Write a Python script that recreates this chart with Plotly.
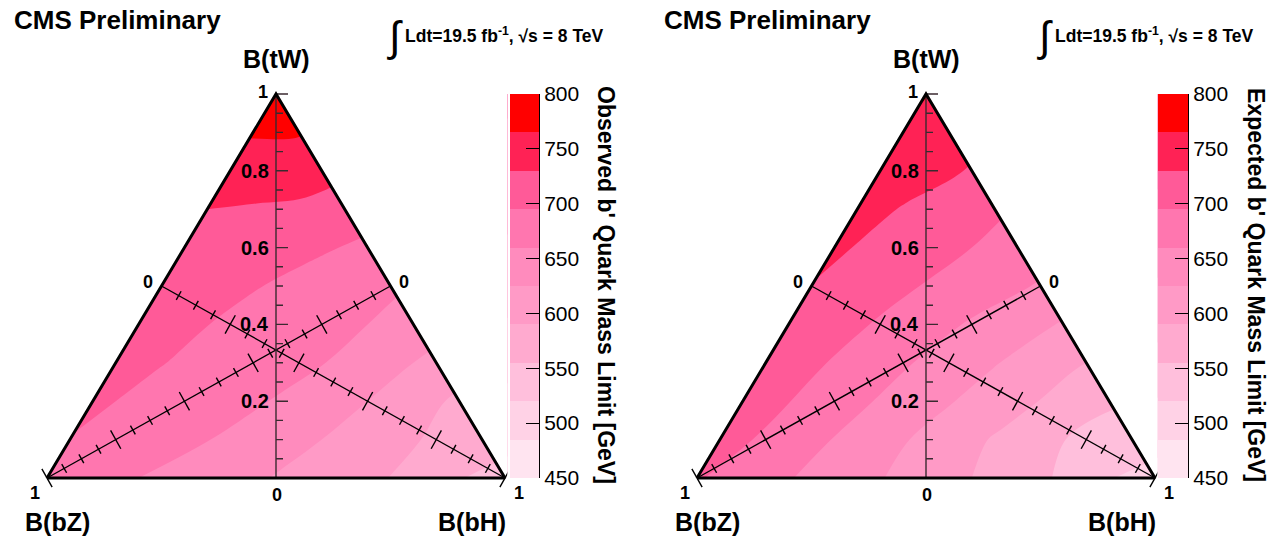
import math
import plotly.graph_objects as go

# ---------------- data ----------------
BH = [0.0, 0.1, 0.2, 0.3, 0.4, 0.5, 0.6, 0.7, 0.8, 0.9, 1.0]   # B(bH) grid (carpet a)
TW = [0.0, 0.1, 0.2, 0.3, 0.4, 0.5, 0.6, 0.7, 0.8, 0.9, 1.0]   # B(tW) grid (carpet b)

# mass limits [GeV]; row = B(tW), column = B(bH) (B(bZ) = 1 - B(tW) - B(bH))
OBS_LIMIT = [
    [696, 678, 660, 648, 636, 623, 610, 598, 580, 557, 540],
    [694, 684, 672, 661, 648, 632, 618, 600, 585, 560],
    [700, 690, 680, 670, 658, 643, 625, 608, 582],
    [708, 696, 687, 678, 667, 655, 635, 615],
    [714, 701, 690, 682, 672, 660, 640],
    [720, 708, 697, 688, 678, 665],
    [725, 716, 707, 698, 690],
    [730, 727, 723, 718],
    [748, 747, 746],
    [768, 768],
    [795],
]
EXP_LIMIT = [
    [698, 680, 662, 645, 627, 607, 590, 570, 550, 522, 505],
    [710, 689, 669, 648, 628, 607, 587, 566, 546, 525],
    [715, 696, 676, 657, 637, 618, 599, 579, 560],
    [720, 701, 683, 664, 646, 627, 609, 590],
    [725, 708, 691, 674, 656, 639, 622],
    [729, 715, 700, 686, 671, 657],
    [735, 722, 708, 695, 682],
    [742, 728, 714, 700],
    [750, 739, 728],
    [760, 750],
    [767],
]

LEVELS = [450, 485, 520, 555, 590, 625, 660, 695, 730, 765, 800]
BAND_COLORS = ["#ffe4f0", "#ffd2e6", "#ffbfdc", "#ffaacf", "#ff9ac6",
               "#ff8bbd", "#ff76af", "#ff5a98", "#ff2255", "#ff0000"]
CBAR_TICKS = [450, 500, 550, 600, 650, 700, 750, 800]
TW_TICK_LABELS = ["0.2", "0.4", "0.6", "0.8"]
TW_TICK_VALUES = [0.2, 0.4, 0.6, 0.8]
PANEL_TITLES = ["Observed b' Quark Mass Limit [GeV]", "Expected b' Quark Mass Limit [GeV]"]

FONT = "Liberation Sans"
W, H = 1284, 537
PX_X, PX_Y = 458.0, 384.0   # pixels per unit in the triangle frame


def tri_xy(h, t):
    return h + t / 2.0, t


BL, BR, AP = tri_xy(0, 0), tri_xy(1, 0), tri_xy(0, 1)
LM, RM, BC = tri_xy(0, 0.5), tri_xy(0.5, 0.5), tri_xy(0.5, 0)

fig = go.Figure()

# contour-fill colorscale: band k coloured at (k+1)/11
cs_fill = [[0.0, BAND_COLORS[0]]]
for k, c in enumerate(BAND_COLORS):
    cs_fill.append([(k + 1) / 11.0, c])
cs_fill.append([1.0, BAND_COLORS[-1]])
cs_bar = [[k / 9.0, c] for k, c in enumerate(BAND_COLORS)]

XR = [-0.06, 1.005]
YR = [-0.05, 1.05]
panels = [
    dict(data=OBS_LIMIT, xa="x", ya="y", cxa="x3", cya="y3", left=47, cb=(510, 539), title_x=606),
    dict(data=EXP_LIMIT, xa="x2", ya="y2", cxa="x4", cya="y4", left=697, cb=(1158, 1188), title_x=1256),
]

annotations = []


def ann(text, x, y, xref, yref, size, bold=True, xanchor="center", yanchor="middle",
        xshift=0, yshift=0, angle=0, family=FONT):
    annotations.append(dict(text=text, x=x, y=y, xref=xref, yref=yref, showarrow=False,
                            xanchor=xanchor, yanchor=yanchor, xshift=xshift, yshift=yshift,
                            textangle=angle,
                            font=dict(family=family, size=size, color="black",
                                      weight="bold" if bold else "normal")))


layout_axes = {}
for pi, p in enumerate(panels):
    xa, ya = p["xa"], p["ya"]
    cid = "carpet%d" % pi
    X = [[tri_xy(h, t)[0] for h in BH] for t in TW]
    Y = [[tri_xy(h, t)[1] for h in BH] for t in TW]
    Z = [row + [None] * (len(BH) - len(row)) for row in p["data"]]
    hidden = dict(showgrid=False, showline=False, showticklabels="none", startline=False,
                  endline=False, minorgridcount=0, smoothing=0)
    fig.add_trace(go.Carpet(a=BH, b=TW, x=X, y=Y, carpet=cid, xaxis=xa, yaxis=ya,
                            aaxis=hidden, baxis=hidden))
    fig.add_trace(go.Contourcarpet(a=BH, b=TW, z=Z, carpet=cid, xaxis=xa, yaxis=ya,
                                   autocontour=False,
                                   contours=dict(start=LEVELS[0], end=LEVELS[-1],
                                                 size=LEVELS[1] - LEVELS[0],
                                                 coloring="fill", showlines=False),
                                   line=dict(width=0), colorscale=cs_fill, showscale=False))
    # white mask right of the triangle (carpet parallelogram overflow)
    fig.add_trace(go.Scatter(x=[BR[0], 1.3, 1.3, AP[0], AP[0], BR[0]],
                             y=[BR[1], BR[1], 1.3, 1.3, AP[1], BR[1]],
                             mode="lines", fill="toself", fillcolor="white",
                             line=dict(width=0, color="white"), xaxis=xa, yaxis=ya,
                             hoverinfo="skip"))

    # medians with ticks
    def median(P0, P1):
        xs = [P0[0], P1[0]]
        ys = [P0[1], P1[1]]
        dxp = (P1[0] - P0[0]) * PX_X
        dyp = (P1[1] - P0[1]) * PX_Y
        L = math.hypot(dxp, dyp)
        ux, uy = -dyp / L, dxp / L
        tx, ty = [], []
        for n in range(1, 21):
            v = n * 0.05
            half = 10.5 if n % 4 == 0 else 5.0
            bx = P0[0] + v * (P1[0] - P0[0])
            by = P0[1] + v * (P1[1] - P0[1])
            ox, oy = ux * half / PX_X, uy * half / PX_Y
            tx += [bx - ox, bx + ox, None]
            ty += [by - oy, by + oy, None]
        fig.add_trace(go.Scatter(x=xs + [None] + tx, y=ys + [None] + ty, mode="lines",
                                 line=dict(color="black", width=1.4), xaxis=xa, yaxis=ya,
                                 hoverinfo="skip"))

    median(RM, BL)   # B(bZ): 0 at right midpoint, 1 at bottom-left corner
    median(LM, BR)   # B(bH): 0 at left midpoint, 1 at bottom-right corner

    # vertical B(tW) axis
    vx, vy = [BC[0], AP[0], None], [BC[1], AP[1], None]
    for n in range(0, 21):
        v = n * 0.05
        ln = 12.0 if n % 4 == 0 else 7.0
        vx += [0.5, 0.5 + ln / PX_X, None]
        vy += [v, v, None]
    fig.add_trace(go.Scatter(x=vx, y=vy, mode="lines", line=dict(color="#3a2a30", width=1.4),
                             xaxis=xa, yaxis=ya, hoverinfo="skip"))

    # triangle outline
    fig.add_trace(go.Scatter(x=[BL[0], BR[0], AP[0], BL[0]], y=[BL[1], BR[1], AP[1], BL[1]],
                             mode="lines", line=dict(color="black", width=3),
                             xaxis=xa, yaxis=ya, hoverinfo="skip"))

    # colour bar (heatmap of the bands)
    fig.add_trace(go.Heatmap(z=[[k] for k in range(len(BAND_COLORS))], x=[0, 1], y=LEVELS,
                             zmin=0, zmax=len(BAND_COLORS) - 1, colorscale=cs_bar,
                             showscale=False, xaxis=p["cxa"], yaxis=p["cya"], hoverinfo="skip"))

    # axis domains
    left = p["left"] + XR[0] * PX_X
    right = p["left"] + XR[1] * PX_X
    bottom = 478 - YR[0] * PX_Y
    top = 478 - YR[1] * PX_Y
    xk = "xaxis" if xa == "x" else "xaxis" + xa[1:]
    yk = "yaxis" if ya == "y" else "yaxis" + ya[1:]
    layout_axes[xk] = dict(domain=[left / W, right / W], range=XR, visible=False, anchor=ya,
                           automargin=False)
    layout_axes[yk] = dict(domain=[(H - bottom) / H, (H - top) / H], range=YR, visible=False,
                           anchor=xa, automargin=False)
    cxk = "xaxis" + p["cxa"][1:]
    cyk = "yaxis" + p["cya"][1:]
    layout_axes[cxk] = dict(domain=[p["cb"][0] / W, p["cb"][1] / W], range=[0, 1],
                            visible=False, anchor=p["cya"], automargin=False)
    layout_axes[cyk] = dict(domain=[(H - 478) / H, (H - 94) / H], range=[LEVELS[0], LEVELS[-1]],
                            anchor=p["cxa"], side="right", ticks="inside", ticklen=13,
                            tickwidth=1, tickcolor="black", showline=True, linecolor="black",
                            linewidth=1, tickvals=CBAR_TICKS, showgrid=False, zeroline=False,
                            automargin=False,
                            tickfont=dict(family=FONT, size=21, color="black"))

    # labels around the triangle
    ann("1", AP[0], AP[1], xa, ya, 18, xshift=-13, yshift=2)
    ann("0", LM[0], LM[1], xa, ya, 18, xshift=-14, yshift=4)
    ann("0", RM[0], RM[1], xa, ya, 18, xshift=13, yshift=4)
    ann("1", BL[0], BL[1], xa, ya, 18, xshift=-12, yshift=-15)
    ann("0", BC[0], BC[1], xa, ya, 18, xshift=1, yshift=-17)
    ann("1", BR[0], BR[1], xa, ya, 18, xshift=14, yshift=-15)
    for v, lab in zip(TW_TICK_VALUES, TW_TICK_LABELS):
        ann(lab, 0.5, v, xa, ya, 20, xanchor="right", xshift=-5)
    ann("B(tW)", AP[0], AP[1], xa, ya, 25, yshift=35)
    ann("B(bZ)", BL[0], BL[1], xa, ya, 25, xshift=10, yshift=-44)
    ann("B(bH)", BR[0], BR[1], xa, ya, 25, xshift=-33, yshift=-44)

    # colour-bar title
    ann(PANEL_TITLES[pi], p["title_x"] / W, (H - 285) / H, "paper", "paper", 23, angle=90)

    # header texts
    off = 0 if pi == 0 else 650
    ann("CMS Preliminary", (12 + off) / W, (H - 20) / H, "paper", "paper", 26, xanchor="left")
    ann("\u222b", (395 + off) / W, (H - 37) / H, "paper", "paper", 42, bold=False,
        family="Liberation Sans")
    ann("Ldt=19.5 fb<sup>-1</sup>, \u221as = 8 TeV", (403 + off) / W, (H - 35) / H,
        "paper", "paper", 17.5, xanchor="left")

fig.update_layout(width=W, height=H, margin=dict(l=0, r=0, t=0, b=0, autoexpand=False),
                  template="none",
                  paper_bgcolor="white", plot_bgcolor="rgba(0,0,0,0)", showlegend=False,
                  annotations=annotations, **layout_axes)

fig.write_html("out.html")
